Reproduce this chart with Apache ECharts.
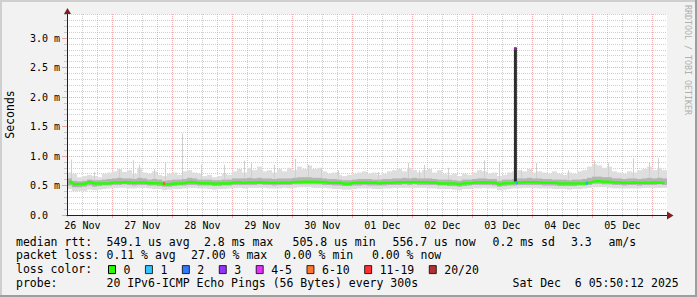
<!DOCTYPE html>
<html><head><meta charset="utf-8">
<script src="https://cdn.jsdelivr.net/npm/echarts@6/dist/echarts.min.js"></script>
<style>html,body{margin:0;padding:0;background:#f2f2f2}#c{width:697px;height:297px}</style>
</head><body><div id="c"></div>
<script>
// ---- time base: hours since 26 Nov 2025 00:00 ----
const START_H = 5 + 50 / 60 + 12 / 3600;   // 26 Nov 05:50:12
const END_H = START_H + 240;               // 06 Dec 05:50:12
const STEP_H = 2;                          // one smoke column = 2 h

// ---- tick labels ----
const dayLabels = ['26 Nov', '27 Nov', '28 Nov', '29 Nov', '30 Nov', '01 Dec', '02 Dec', '03 Dec', '04 Dec', '05 Dec'];
const dayLabelHours = [12, 36, 60, 84, 108, 132, 156, 180, 204, 228];
const yTickValues = [0, 0.5, 1, 1.5, 2, 2.5, 3];
const yTickLabels = ['0.0', '0.5 m', '1.0 m', '1.5 m', '2.0 m', '2.5 m', '3.0 m'];
const Y_MAX = 3.407;

// ---- loss classes ----
const lossClasses = ['0', '1', '2', '3', '4-5', '6-10', '11-19', '20/20'];
const lossColors = ['#26ff00', '#00b8ff', '#0059ff', '#7e00ff', '#dd00ff', '#ff5500', '#ff0000', '#a00000'];

// ---- median rtt (ms), one value per 2 h column ----
const median = [
  0.57, 0.52, 0.525, 0.525, 0.56, 0.535, 0.535, 0.535, 0.54, 0.55,
  0.55, 0.555, 0.55, 0.545, 0.55, 0.55, 0.54, 0.54, 0.54, 0.52,
  0.52, 0.535, 0.535, 0.54, 0.56, 0.555, 0.54, 0.54, 0.54, 0.53,
  0.535, 0.535, 0.535, 0.55, 0.55, 0.545, 0.55, 0.55, 0.555, 0.55,
  0.545, 0.545, 0.545, 0.55, 0.545, 0.56, 0.56, 0.565, 0.565, 0.565,
  0.56, 0.56, 0.545, 0.545, 0.545, 0.53, 0.53, 0.545, 0.545, 0.55,
  0.545, 0.545, 0.54, 0.545, 0.545, 0.55, 0.555, 0.555, 0.555, 0.56,
  0.555, 0.555, 0.55, 0.55, 0.535, 0.535, 0.535, 0.535, 0.52, 0.54,
  0.54, 0.55, 0.55, 0.555, 0.55, 0.55, 0.52, 0.54, 0.54, 0.545,
  0.55, 0.555, 0.555, 0.555, 0.55, 0.545, 0.545, 0.545, 0.535, 0.535,
  0.535, 0.535, 0.535, 0.535, 0.545, 0.57, 0.57, 0.565, 0.565, 0.55,
  0.55, 0.545, 0.545, 0.55, 0.545, 0.545, 0.545, 0.55, 0.545, 0.545
];
// ---- smoke (ms): lowest ping, lower dense edge, upper dense edge, highest ping ----
const smokeMin = [
  0.44, 0.40, 0.41, 0.40, 0.43, 0.42, 0.43, 0.44, 0.45, 0.46,
  0.46, 0.46, 0.45, 0.45, 0.46, 0.46, 0.45, 0.44, 0.44, 0.42,
  0.43, 0.44, 0.44, 0.45, 0.46, 0.46, 0.45, 0.45, 0.44, 0.43,
  0.44, 0.44, 0.45, 0.46, 0.46, 0.45, 0.46, 0.46, 0.46, 0.46,
  0.45, 0.45, 0.45, 0.46, 0.45, 0.46, 0.47, 0.47, 0.47, 0.46,
  0.46, 0.46, 0.45, 0.44, 0.44, 0.43, 0.43, 0.44, 0.45, 0.45,
  0.45, 0.44, 0.44, 0.45, 0.45, 0.46, 0.46, 0.46, 0.46, 0.46,
  0.46, 0.46, 0.45, 0.45, 0.44, 0.44, 0.44, 0.43, 0.42, 0.44,
  0.44, 0.45, 0.45, 0.46, 0.45, 0.45, 0.42, 0.43, 0.44, 0.45,
  0.45, 0.46, 0.46, 0.46, 0.45, 0.45, 0.45, 0.44, 0.44, 0.44,
  0.43, 0.44, 0.44, 0.45, 0.46, 0.47, 0.47, 0.47, 0.46, 0.45,
  0.45, 0.45, 0.45, 0.45, 0.45, 0.46, 0.46, 0.46, 0.46, 0.46
];
const smokeLow = [
  0.50, 0.47, 0.47, 0.48, 0.50, 0.48, 0.49, 0.50, 0.50, 0.51,
  0.51, 0.52, 0.51, 0.50, 0.51, 0.51, 0.50, 0.50, 0.49, 0.48,
  0.48, 0.49, 0.50, 0.50, 0.51, 0.51, 0.50, 0.50, 0.50, 0.49,
  0.49, 0.50, 0.50, 0.51, 0.51, 0.51, 0.51, 0.51, 0.52, 0.51,
  0.51, 0.50, 0.51, 0.51, 0.51, 0.52, 0.52, 0.52, 0.52, 0.52,
  0.52, 0.51, 0.51, 0.50, 0.50, 0.49, 0.49, 0.50, 0.50, 0.51,
  0.50, 0.50, 0.50, 0.50, 0.51, 0.51, 0.51, 0.52, 0.51, 0.52,
  0.51, 0.51, 0.51, 0.51, 0.50, 0.50, 0.49, 0.49, 0.48, 0.49,
  0.50, 0.51, 0.51, 0.51, 0.51, 0.50, 0.48, 0.49, 0.50, 0.50,
  0.51, 0.51, 0.51, 0.51, 0.51, 0.50, 0.50, 0.50, 0.49, 0.49,
  0.49, 0.49, 0.50, 0.50, 0.51, 0.53, 0.53, 0.52, 0.52, 0.51,
  0.51, 0.50, 0.51, 0.51, 0.50, 0.51, 0.51, 0.51, 0.52, 0.51
];
const smokeHigh = [
  0.62, 0.58, 0.57, 0.58, 0.60, 0.59, 0.59, 0.60, 0.61, 0.62,
  0.63, 0.62, 0.62, 0.61, 0.63, 0.62, 0.60, 0.61, 0.60, 0.58,
  0.59, 0.60, 0.60, 0.61, 0.63, 0.62, 0.60, 0.60, 0.60, 0.59,
  0.59, 0.60, 0.60, 0.62, 0.62, 0.62, 0.63, 0.62, 0.63, 0.62,
  0.62, 0.61, 0.62, 0.62, 0.62, 0.63, 0.64, 0.64, 0.64, 0.63,
  0.63, 0.62, 0.61, 0.61, 0.60, 0.59, 0.59, 0.60, 0.61, 0.61,
  0.61, 0.60, 0.60, 0.61, 0.61, 0.62, 0.62, 0.63, 0.62, 0.63,
  0.62, 0.62, 0.62, 0.61, 0.60, 0.60, 0.60, 0.59, 0.58, 0.60,
  0.60, 0.61, 0.62, 0.62, 0.61, 0.61, 0.58, 0.60, 0.60, 0.61,
  0.62, 0.62, 0.63, 0.62, 0.62, 0.61, 0.61, 0.60, 0.60, 0.60,
  0.59, 0.60, 0.60, 0.61, 0.63, 0.65, 0.65, 0.64, 0.64, 0.62,
  0.62, 0.61, 0.62, 0.62, 0.61, 0.62, 0.63, 0.62, 0.63, 0.62
];
const smokeMax = [
  0.72, 0.70, 0.64, 0.66, 0.68, 0.66, 0.64, 0.70, 0.72, 0.74,
  0.78, 0.73, 0.76, 0.70, 0.80, 0.72, 0.70, 0.74, 0.68, 0.66,
  0.70, 0.72, 0.68, 0.74, 0.76, 0.72, 0.70, 0.66, 0.68, 0.64,
  0.66, 0.70, 0.68, 0.74, 0.78, 0.72, 0.80, 0.76, 0.82, 0.74,
  0.76, 0.72, 0.78, 0.74, 0.80, 0.76, 0.82, 0.78, 0.84, 0.78,
  0.80, 0.74, 0.70, 0.72, 0.68, 0.66, 0.68, 0.70, 0.72, 0.74,
  0.70, 0.72, 0.68, 0.70, 0.74, 0.76, 0.78, 0.74, 0.80, 0.76,
  0.72, 0.76, 0.78, 0.72, 0.76, 0.70, 0.68, 0.70, 0.66, 0.70,
  0.68, 0.72, 0.76, 0.74, 0.70, 0.72, 0.66, 0.68, 0.72, 0.74,
  0.76, 0.74, 0.78, 0.72, 0.74, 0.72, 0.70, 0.74, 0.70, 0.68,
  0.72, 0.70, 0.74, 0.76, 0.82, 0.86, 0.84, 0.80, 0.82, 0.74,
  0.72, 0.70, 0.74, 0.72, 0.76, 0.78, 0.82, 0.76, 0.80, 0.76
];
// ---- isolated high pings (hour, ms) ----
const spikeHours = [7.8, 17.0, 27.0, 32.6, 35.0, 41.0, 45.4, 52.2, 59.8, 69.0, 77.0, 79.8, 89.0, 97.4, 102.6, 107.8,
  114.6, 130.6, 142.6, 147.0, 149.0, 158.6, 173.0, 179.0, 187.8, 193.8, 206.6, 217.0, 222.6, 232.6, 239.0, 242.6];
const spikeTops = [0.94, 0.73, 0.76, 0.93, 0.85, 0.78, 0.88, 1.38, 0.85, 0.85, 0.92, 0.88, 0.85, 0.95, 0.85, 0.80,
  0.76, 0.73, 0.88, 0.76, 0.85, 0.80, 0.93, 0.90, 0.76, 0.88, 0.76, 0.93, 0.88, 0.96, 0.90, 0.96];
// ---- the 03 Dec burst: hours and rtt range (ms) ----
const burstHours = [184.6, 185.8];
const burstRange = [0.56, 2.84];
// ---- median samples with packet loss, per loss class ----
const lossPoints = {
  '1': [[185.8, 0.547], [213.8, 0.54]],
  '4-5': [[185.1, 2.82]],
  '6-10': [[44.6, 0.535]]
};

// ---- legend texts ----
const rttLine = ['median rtt:', '549.1 us avg', '2.8 ms max', '505.8 us min', '556.7 us now', '0.2 ms sd', '3.3', 'am/s'];
const lossLine = ['packet loss:', '0.11 % avg', '27.00 % max', '0.00 % min', '0.00 % now'];
const probeLine = ['probe:', '20 IPv6-ICMP Echo Pings (56 Bytes) every 300s', 'Sat Dec  6 05:50:12 2025'];

// ================= build =================
const MONO = 'DejaVu Sans Mono';
const minorXGrid = [], majorXGrid = [];
for (let h = 6; h < END_H; h += 6) { (h % 24 === 0 ? majorXGrid : minorXGrid).push(h); }
const minorYGrid = [];
for (let k = 1; k <= 34; k++) { if (k % 5 !== 0) minorYGrid.push(k / 10); }

const outerRows = median.map((m, i) => [START_H + i * STEP_H, START_H + (i + 1) * STEP_H, smokeMin[i], smokeMax[i]]);
const innerRows = median.map((m, i) => [START_H + i * STEP_H, START_H + (i + 1) * STEP_H, smokeLow[i], smokeHigh[i]]);
const medianRows = median.map((m, i) => [START_H + (i + 0.5) * STEP_H, m]);
const spikeRows = spikeHours.map((h, i) => {
  const col = Math.min(median.length - 1, Math.floor((h - START_H) / STEP_H));
  return [h, smokeHigh[col], spikeTops[i]];
});

function bandRenderer(color) {
  return function (params, api) {
    const a = api.coord([api.value(0), api.value(3)]);
    const b = api.coord([api.value(1), api.value(2)]);
    return { type: 'rect', shape: { x: a[0], y: a[1], width: b[0] - a[0], height: b[1] - a[1] }, style: { fill: color } };
  };
}
function spikeRenderer(params, api) {
  const a = api.coord([api.value(0), api.value(2)]);
  const b = api.coord([api.value(0), api.value(1)]);
  return { type: 'rect', shape: { x: Math.floor(a[0]), y: a[1], width: 1, height: b[1] - a[1] }, style: { fill: '#cfcfcf' } };
}

const GRID_MINOR = 'rgba(143,143,143,0.42)';
const GRID_MAJOR = 'rgba(222,60,60,0.42)';

const xBase = { type: 'value', min: START_H, max: END_H, position: 'bottom', offset: 0 };
const yBase = { type: 'value', min: 0, max: Y_MAX, position: 'left', offset: 0 };

const series = [
  { name: 'smoke', type: 'custom', renderItem: bandRenderer('#dedede'), data: outerRows, encode: { x: [0, 1], y: [2, 3] }, clip: true, silent: true, z: 2 },
  { name: 'spikes', type: 'custom', renderItem: spikeRenderer, data: spikeRows, encode: { x: 0, y: [1, 2] }, clip: true, silent: true, z: 2 },
  { name: 'smokeDense', type: 'custom', renderItem: bandRenderer('#b4b4b4'), data: innerRows, encode: { x: [0, 1], y: [2, 3] }, clip: true, silent: true, z: 2 },
  { name: 'burst', type: 'custom', renderItem: bandRenderer('#2e2e2e'), data: [[burstHours[0], burstHours[1], burstRange[0], burstRange[1]]], encode: { x: [0, 1], y: [2, 3] }, clip: true, silent: true, z: 3 },
  { name: '0', type: 'line', data: medianRows, showSymbol: false, lineStyle: { color: lossColors[0], width: 2.5 }, itemStyle: { color: lossColors[0] }, z: 4, silent: true }
];
lossClasses.slice(1).forEach((c, k) => {
  series.push({ name: c, type: 'scatter', data: lossPoints[c] || [], symbol: 'rect', symbolSize: [2, 3],
    itemStyle: { color: lossColors[k + 1] }, z: 5, silent: true });
});

const texts = [];
const rttX = [16, 106.5, 204, 292.5, 392.5, 492.5, 571, 608.5];
rttLine.forEach((t, i) => texts.push({ t, x: rttX[i], y: 241.5 }));
const lossX = [16, 106.5, 191, 284, 372];
lossLine.forEach((t, i) => texts.push({ t, x: lossX[i], y: 255.2 }));
texts.push({ t: 'loss color:', x: 16, y: 268.6 });
texts.push({ t: probeLine[0], x: 16, y: 283 });
texts.push({ t: probeLine[1], x: 106.5, y: 283 });
texts.push({ t: probeLine[2], x: 512.5, y: 283 });

const graphic = [
  { type: 'rect', shape: { x: 0, y: 0, width: 697, height: 2 }, style: { fill: '#cfcfcf' }, silent: true },
  { type: 'rect', shape: { x: 0, y: 0, width: 2, height: 297 }, style: { fill: '#cfcfcf' }, silent: true },
  { type: 'rect', shape: { x: 0, y: 295, width: 697, height: 2 }, style: { fill: '#9e9e9e' }, silent: true },
  { type: 'rect', shape: { x: 695, y: 0, width: 2, height: 297 }, style: { fill: '#9e9e9e' }, silent: true },
  { type: 'polygon', shape: { points: [[64, 14], [71, 14], [67.5, 8]] }, style: { fill: '#801f1f' }, silent: true, z: 10 },
  { type: 'polygon', shape: { points: [[667, 211.5], [667, 219.5], [673.5, 215.5]] }, style: { fill: '#801f1f' }, silent: true, z: 10 },
  { type: 'text', x: 687.5, y: 5, rotation: -Math.PI / 2, silent: true,
    style: { text: 'RRDTOOL / TOBI OETIKER', fontFamily: MONO, fontSize: 8.3, fill: '#b0b0b0', align: 'left', verticalAlign: 'middle' } }
].concat(texts.map(o => ({ type: 'text', x: o.x, y: o.y, silent: true,
  style: { text: o.t, fontFamily: MONO, fontSize: 11.5, lineHeight: 12, fill: '#000', align: 'left', verticalAlign: 'middle' } })));

const option = {
  animation: false,
  backgroundColor: '#f2f2f2',
  grid: { left: 67, right: 30, top: 14, bottom: 82, show: true, backgroundColor: '#ffffff', borderWidth: 0, containLabel: false, outerBoundsMode: 'none' },
  xAxis: [
    Object.assign({}, xBase, { z: 1, axisLine: { show: false }, axisLabel: { show: false },
      axisTick: { show: true, customValues: minorXGrid, length: 2, lineStyle: { color: GRID_MINOR } },
      splitLine: { show: true, lineStyle: { color: GRID_MINOR, width: 1, type: [1, 1] } } }),
    Object.assign({}, xBase, { z: 2, axisLine: { show: false }, axisLabel: { show: false },
      axisTick: { show: true, customValues: majorXGrid, length: 3, lineStyle: { color: GRID_MAJOR } },
      splitLine: { show: true, lineStyle: { color: GRID_MAJOR, width: 1, type: [1, 1] } } }),
    Object.assign({}, xBase, { z: 6, axisLine: { show: true, lineStyle: { color: '#1f1f1f', width: 1 } },
      axisTick: { show: false }, splitLine: { show: false },
      axisLabel: { show: true, customValues: dayLabelHours, margin: 5, color: '#000', fontFamily: MONO, fontSize: 10,
        formatter: v => { const k = dayLabelHours.indexOf(v); return k >= 0 ? dayLabels[k] : ''; } } })
  ],
  yAxis: [
    Object.assign({}, yBase, { z: 1, axisLine: { show: false }, axisLabel: { show: false },
      axisTick: { show: true, customValues: minorYGrid, length: 3, lineStyle: { color: GRID_MINOR } },
      splitLine: { show: true, lineStyle: { color: GRID_MINOR, width: 1, type: [1, 1] } } }),
    Object.assign({}, yBase, { z: 2, axisLine: { show: false }, axisLabel: { show: false },
      axisTick: { show: true, customValues: yTickValues, length: 5, lineStyle: { color: GRID_MAJOR } },
      splitLine: { show: true, lineStyle: { color: GRID_MAJOR, width: 1, type: [1, 1] } } }),
    Object.assign({}, yBase, { z: 6, axisLine: { show: true, lineStyle: { color: '#1f1f1f', width: 1 } },
      axisTick: { show: false }, splitLine: { show: false },
      name: 'Seconds', nameLocation: 'middle', nameRotate: 90, nameGap: 51,
      nameTextStyle: { fontFamily: MONO, fontSize: 11.5, color: '#000' },
      axisLabel: { show: true, customValues: yTickValues, margin: 37, align: 'left', color: '#000', fontFamily: MONO, fontSize: 10,
        formatter: v => { const k = yTickValues.indexOf(v); return k >= 0 ? yTickLabels[k] : ''; } } })
  ],
  legend: {
    left: 108, top: 263.6, padding: 0, itemWidth: 7, itemHeight: 8, itemGap: 14.5, selectedMode: false,
    textStyle: { fontFamily: MONO, fontSize: 11.5, lineHeight: 12, color: '#000', padding: [0, 0, 0, 3] },
    data: lossClasses.map((n, k) => ({ name: n, icon: 'rect', itemStyle: { color: lossColors[k], borderColor: '#000', borderWidth: 1 } }))
  },
  series: series.map(s => Object.assign({ xAxisIndex: 2, yAxisIndex: 2 }, s)),
  graphic: graphic
};

const chart = echarts.init(document.getElementById('c'), null, { renderer: 'svg', width: 697, height: 297 });
chart.setOption(option);
</script>
</body></html>
